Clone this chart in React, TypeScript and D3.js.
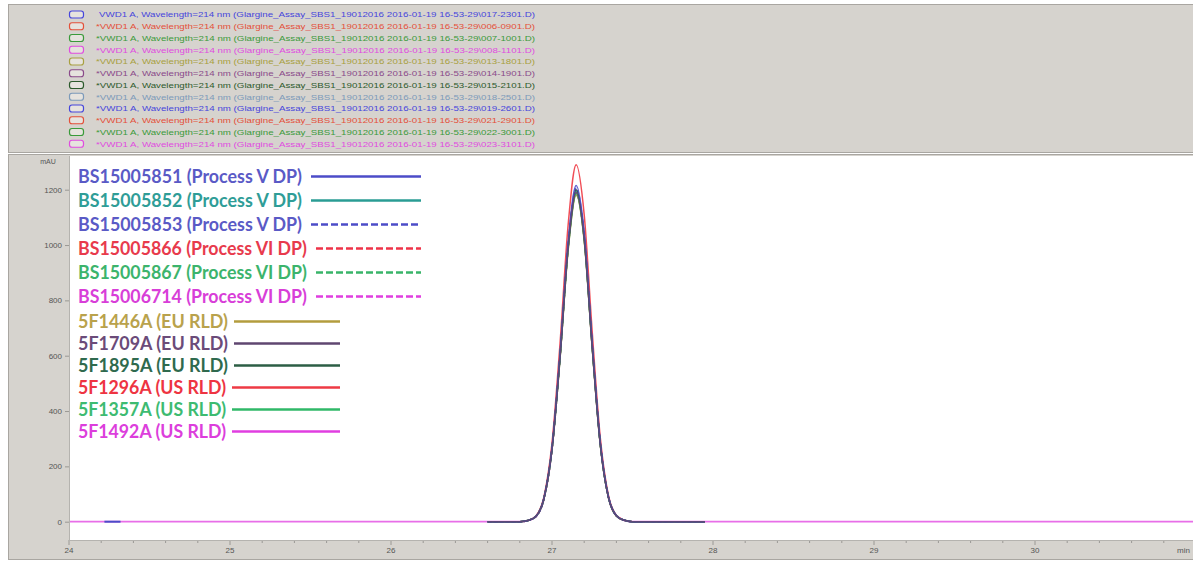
import React, { useEffect, useRef } from "react";
import * as d3 from "d3";

const W = 1193;
const H = 563;

// Retention times (min) sampled across the main peak
const PEAK_TIMES = [26.8, 26.85, 26.9, 26.95, 27.0, 27.05, 27.1, 27.15, 27.2, 27.25, 27.3, 27.35, 27.4, 27.45, 27.5];

// Sample names shown in the overlay legend
const SAMPLE_NAMES = [
  "BS15005851 (Process V DP)",
  "BS15005852 (Process V DP)",
  "BS15005853 (Process V DP)",
  "BS15005866 (Process VI DP)",
  "BS15005867 (Process VI DP)",
  "BS15006714 (Process VI DP)",
  "5F1446A (EU RLD)",
  "5F1709A (EU RLD)",
  "5F1895A (EU RLD)",
  "5F1296A (US RLD)",
  "5F1357A (US RLD)",
  "5F1492A (US RLD)",
];

// Data file of each injection
const TRACE_FILES = [
  "017-2301", "006-0901", "007-1001", "008-1101", "013-1801", "014-1901",
  "015-2101", "018-2501", "019-2601", "021-2901", "022-3001", "023-3101",
];

// Detector response (mAU) at PEAK_TIMES, one row per sample
const PEAK_VALUES: number[][] = [
  [0, 4, 19, 85, 267, 608, 1008, 1215, 1045, 644, 286, 91, 22, 5, 0],
  [0, 4, 19, 84, 263, 598, 992, 1195, 1028, 633, 281, 90, 22, 5, 0],
  [0, 4, 19, 84, 265, 603, 1000, 1205, 1036, 639, 283, 90, 22, 5, 0],
  [0, 4, 19, 83, 262, 595, 988, 1190, 1023, 631, 280, 89, 21, 5, 0],
  [0, 4, 19, 83, 261, 593, 984, 1185, 1019, 628, 278, 89, 21, 5, 0],
  [0, 4, 18, 82, 260, 596, 990, 1195, 1030, 636, 283, 91, 22, 5, 0],
  [0, 4, 19, 83, 260, 590, 979, 1180, 1015, 625, 277, 89, 21, 5, 0],
  [0, 4, 19, 84, 263, 597, 989, 1190, 1022, 630, 279, 89, 21, 5, 0],
  [0, 4, 19, 84, 264, 600, 996, 1200, 1032, 636, 282, 90, 22, 5, 0],
  [0, 4, 21, 90, 284, 645, 1071, 1290, 1109, 684, 303, 97, 23, 5, 0],
  [0, 4, 19, 83, 261, 592, 983, 1185, 1020, 629, 279, 89, 21, 5, 0],
  [0, 4, 19, 84, 264, 599, 994, 1198, 1030, 635, 282, 90, 22, 5, 0],
];

// Start / end retention time of the recorded baseline of each trace
const TRACE_SPANS: [number, number][] = [
  [26.6, 27.95], [26.6, 27.95], [26.6, 27.95], [26.6, 27.95],
  [26.6, 27.95], [26.6, 27.95], [26.6, 27.95], [26.6, 27.95],
  [26.6, 27.95], [26.6, 27.95], [26.6, 27.95], [24.0, 31.0],
];

// Short baseline fragments recorded early in the run
const BASELINE_FRAGMENTS = [{ trace: 0, from: 24.22, to: 24.32 }];

const X_TICKS = [24, 25, 26, 27, 28, 29, 30];
const Y_TICKS = [0, 200, 400, 600, 800, 1000, 1200];

// Styling
const TEXT_COLORS = [
  "#5a5ac6", "#2f9d97", "#5a5ac6", "#e83a4c", "#3cb46c", "#d83ed8",
  "#b9a24c", "#6b4b79", "#2f6a4e", "#ee3442", "#3dbb71", "#dc3edc",
];
const LINE_COLORS = [
  "#4c4cc8", "#2a9c94", "#4c4cc8", "#ee3348", "#38b468", "#e03ee0",
  "#b39c3e", "#5f4670", "#2c5e45", "#ee3a44", "#30b868", "#e03ee0",
];
const LEGEND_DASH = [null, null, "7,3", "7,3", "7,3", "7,3", null, null, null, null, null, null];
const FILE_COLORS = [
  "#4646dc", "#e4503a", "#3a9a3a", "#e04ce0", "#a8a040", "#8a4a8a",
  "#2c5a2c", "#7c9aba", "#4646dc", "#e4503a", "#3a9a3a", "#e04ce0",
];
const DRAW_ORDER = [11, 9, 5, 3, 4, 1, 6, 10, 2, 8, 0, 7];

const PANEL = "#d6d3ce";
const PANEL_EDGE = "#a9a6a1";

export default function App() {
  const ref = useRef<SVGSVGElement>(null);

  useEffect(() => {
    const svg = d3.select(ref.current);
    svg.selectAll("*").remove();

    svg.append("rect").attr("width", W).attr("height", H).attr("fill", "#fff");

    // ---- file legend panel ----
    svg.append("rect")
      .attr("x", 8.5).attr("y", 4.5).attr("width", W - 8).attr("height", 148)
      .attr("fill", PANEL).attr("stroke", PANEL_EDGE);

    const fileRows = svg.append("g");
    TRACE_FILES.forEach((file, i) => {
      const y = 14.5 + i * 11.75;
      fileRows.append("rect")
        .attr("x", 69.5).attr("y", y - 3.5).attr("width", 14).attr("height", 7)
        .attr("rx", 2.5)
        .attr("fill", "#e6e3de")
        .attr("stroke", FILE_COLORS[i]).attr("stroke-width", 1.2);
      const x0 = i === 0 ? 99 : 96;
      fileRows.append("text")
        .attr("x", x0).attr("y", y + 2.8)
        .attr("textLength", 535 - x0).attr("lengthAdjust", "spacingAndGlyphs")
        .attr("font-family", "Liberation Sans, Arial, sans-serif")
        .attr("font-size", 8)
        .attr("fill", FILE_COLORS[i])
        .text(`${i === 0 ? "" : "*"}VWD1 A, Wavelength=214 nm (Glargine_Assay_SBS1_19012016 2016-01-19 16-53-29\\${file}.D)`);
    });

    // ---- chromatogram frame ----
    svg.append("rect")
      .attr("x", 8.5).attr("y", 154.5).attr("width", W - 8).attr("height", 405)
      .attr("fill", PANEL).attr("stroke", PANEL_EDGE);

    const left = 69;
    const right = W;
    const top = 156;
    const bottom = 540;

    svg.append("rect")
      .attr("x", left).attr("y", top).attr("width", right - left).attr("height", bottom - top)
      .attr("fill", "#fff");

    const x = d3.scaleLinear().domain([24, 31]).range([69, 1196]);
    const y = d3.scaleLinear().domain([0, 1200]).range([521.7, 189.7]);

    // y axis
    const yAxis = svg.append("g").attr("transform", `translate(${left},0)`)
      .call(d3.axisLeft(y).tickValues(Y_TICKS).tickSize(4).tickPadding(3).tickFormat(d3.format("d")));
    yAxis.select(".domain").remove();
    yAxis.selectAll(".tick line").attr("stroke", "#9a9894");
    yAxis.selectAll(".tick text")
      .attr("font-family", "Liberation Sans, Arial, sans-serif")
      .attr("font-size", 8).attr("fill", "#555");
    svg.append("line")
      .attr("x1", left + 0.5).attr("x2", left + 0.5).attr("y1", top).attr("y2", bottom)
      .attr("stroke", "#b5b3af");
    svg.append("text")
      .attr("x", 48).attr("y", 164).attr("text-anchor", "middle")
      .attr("font-family", "Liberation Sans, Arial, sans-serif")
      .attr("font-size", 7).attr("fill", "#555")
      .text("mAU");

    // x axis: minor ticks every 0.2 min, labels each minute
    const minor = d3.range(24, 31.01, 0.2);
    svg.append("g").selectAll("line").data(minor).join("line")
      .attr("x1", (d) => x(d)).attr("x2", (d) => x(d))
      .attr("y1", bottom).attr("y2", (d) => (Math.abs(d - Math.round(d)) < 1e-6 ? bottom + 5 : bottom + 3))
      .attr("stroke", "#9a9894");
    svg.append("line")
      .attr("x1", left).attr("x2", right).attr("y1", bottom + 0.5).attr("y2", bottom + 0.5)
      .attr("stroke", "#b5b3af");
    svg.append("g").selectAll("text").data(X_TICKS).join("text")
      .attr("x", (d) => x(d)).attr("y", 553).attr("text-anchor", "middle")
      .attr("font-family", "Liberation Sans, Arial, sans-serif")
      .attr("font-size", 8).attr("fill", "#555")
      .text((d) => String(d));
    svg.append("text")
      .attr("x", 1190).attr("y", 553).attr("text-anchor", "end")
      .attr("font-family", "Liberation Sans, Arial, sans-serif")
      .attr("font-size", 8).attr("fill", "#555")
      .text("min");

    // ---- traces ----
    svg.append("clipPath").attr("id", "plot-clip")
      .append("rect").attr("x", left + 1).attr("y", top).attr("width", right - left).attr("height", bottom - top);

    const line = d3.line<[number, number]>()
      .x((d) => x(d[0]))
      .y((d) => y(d[1]))
      .curve(d3.curveMonotoneX);

    const traces = svg.append("g").attr("clip-path", "url(#plot-clip)");
    DRAW_ORDER.forEach((i) => {
      const [t0, t1] = TRACE_SPANS[i];
      const pts: [number, number][] = [
        [t0, 0],
        ...PEAK_TIMES.map((t, k) => [t, PEAK_VALUES[i][k]] as [number, number]),
        [t1, 0],
      ];
      traces.append("path")
        .attr("d", line(pts))
        .attr("fill", "none")
        .attr("stroke", LINE_COLORS[i])
        .attr("stroke-width", i === 11 ? 1.8 : 1.5)
        .attr("stroke-opacity", i === 11 ? 0.75 : 0.9)
        .attr("stroke-dasharray", LEGEND_DASH[i] ? "4,2" : null);
    });
    BASELINE_FRAGMENTS.forEach((f) => {
      traces.append("path")
        .attr("d", line([[f.from, 0], [f.to, 0]]))
        .attr("fill", "none")
        .attr("stroke", LINE_COLORS[f.trace])
        .attr("stroke-width", 2);
    });

    // ---- sample legend ----
    const legend = svg.append("g");
    SAMPLE_NAMES.forEach((name, i) => {
      const cy = i < 6 ? 176.5 + i * 24 : 321.5 + (i - 6) * 22;
      const textEnd = i < 3 ? 302 : i < 6 ? 307 : i < 9 ? 228 : 226;
      legend.append("text")
        .attr("x", 78).attr("y", cy + 6.4)
        .attr("font-family", "Lato, 'Open Sans', sans-serif")
        .attr("font-weight", 700)
        .attr("font-size", 18)
        .attr("textLength", textEnd - 78)
        .attr("lengthAdjust", "spacingAndGlyphs")
        .attr("fill", TEXT_COLORS[i])
        .text(name);
      const lineStart = i < 6 ? textEnd + 9 : textEnd + 6;
      const lineEnd = i < 6 ? 421 : 340;
      legend.append("line")
        .attr("x1", lineStart).attr("x2", lineEnd)
        .attr("y1", cy).attr("y2", cy)
        .attr("stroke", LINE_COLORS[i])
        .attr("stroke-width", 2.6)
        .attr("stroke-dasharray", LEGEND_DASH[i]);
    });
  }, []);

  return (
    <svg
      ref={ref}
      width={W}
      height={H}
      style={{ position: "absolute", left: 0, top: 0, display: "block" }}
    />
  );
}
